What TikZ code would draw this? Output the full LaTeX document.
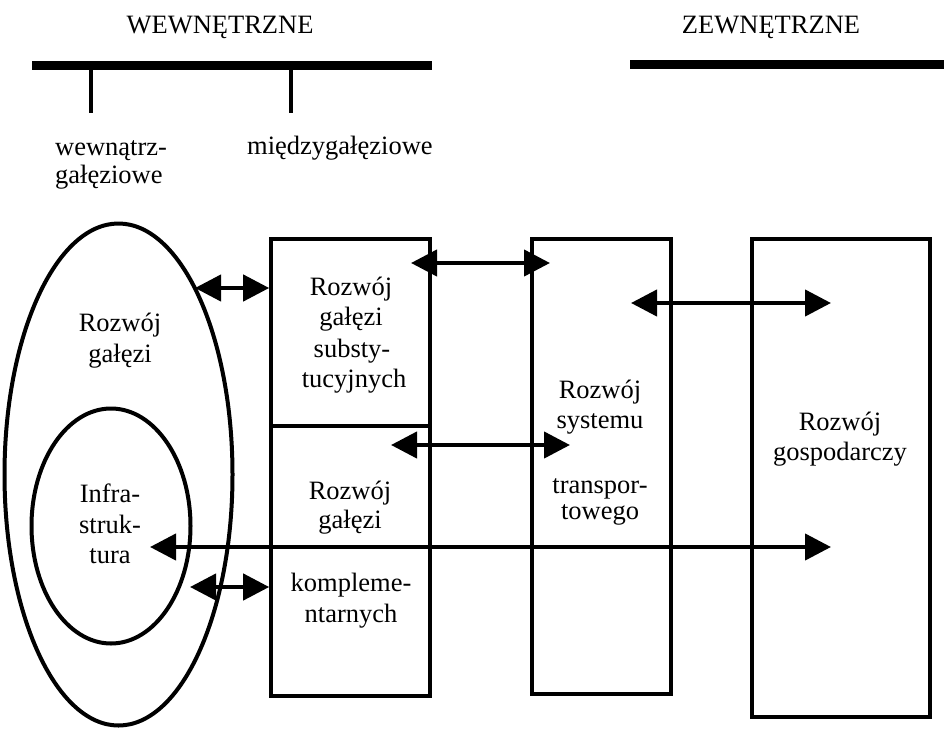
\documentclass[tikz,border=0pt]{standalone}
\usepackage{fontspec}
\setmainfont{Liberation Serif}
\usetikzlibrary{arrows.meta,shapes.geometric}
\begin{document}
\begin{tikzpicture}[x=1pt,y=-1pt,
  txt/.style={inner sep=0pt, anchor=base, font=\fontsize{26.5}{31}\selectfont},
  txtl/.style={txt, anchor=base west},
  panel/.style={draw, line width=3.6pt, rectangle, inner sep=0pt},
  oval/.style={draw, line width=4pt, ellipse, inner sep=0pt},
  bar/.style={line width=9pt},
  tick/.style={line width=3.5pt},
  link/.style={line width=4.3pt,
    {Triangle[length=26pt,width=26pt]}-{Triangle[length=26pt,width=26pt]}},
]
\useasboundingbox (0,0) rectangle (944,728);

% headings and the two group bars
\node[txt] (inner) at (220,33) {WEWNĘTRZNE};
\node[txt] (outer) at (771,33) {ZEWNĘTRZNE};
\coordinate (ib0) at (32,65);  \coordinate (ib1) at (432,65);
\coordinate (eb0) at (630,64); \coordinate (eb1) at (944,64);
\draw[bar] (ib0) -- (ib1);
\draw[bar] (eb0) -- (eb1);
\coordinate (tk1a) at (91,65);  \coordinate (tk1b) at (91,113);
\coordinate (tk2a) at (291,65); \coordinate (tk2b) at (291,113);
\draw[tick] (tk1a) -- (tk1b);
\draw[tick] (tk2a) -- (tk2b);
\node[txtl] (wew1) at (55,155) {wewnątrz-};
\node[txtl] (wew2) at (55,183) {gałęziowe};
\node[txtl] (mie)  at (247,154) {międzygałęziowe};

% ovals: branch and its infrastructure
\node[oval, minimum width=228pt, minimum height=502pt] (branch) at (118.5,474.5) {};
\node[oval, minimum width=159pt, minimum height=235pt] (infra) at (111,526) {};
\node[txt] (br1) at (120,331) {Rozwój};
\node[txt] (br2) at (120,362) {gałęzi};
\node[txt] (in1) at (110,502) {Infra-};
\node[txt] (in2) at (110,533) {struk-};
\node[txt] (in3) at (110,563) {tura};

% panels
\node[panel, minimum width=159pt, minimum height=457pt] (sub) at (350.5,467.5) {};
\coordinate (div) at (350,426);
\draw[line width=3.6pt] (sub.west |- div) -- (sub.east |- div);
\node[panel, minimum width=139pt, minimum height=455pt] (trans) at (601.5,466.5) {};
\node[panel, minimum width=178pt, minimum height=478pt] (econ) at (841,478) {};

\node[txt] (s1) at (351,295) {Rozwój};
\node[txt] (s2) at (351,325) {gałęzi};
\node[txt] (s3) at (352,357) {substy-};
\node[txt] (s4) at (354,387) {tucyjnych};
\node[txt] (k1) at (350,499) {Rozwój};
\node[txt] (k2) at (350,528) {gałęzi};
\node[txt] (k3) at (351,591) {kompleme-};
\node[txt] (k4) at (351,622) {ntarnych};
\node[txt] (t1) at (600,398) {Rozwój};
\node[txt] (t2) at (600,428) {systemu};
\node[txt] (t3) at (600,493) {transpor-};
\node[txt] (t4) at (600,519) {towego};
\node[txt] (g1) at (840,430) {Rozwój};
\node[txt] (g2) at (840,460) {gospodarczy};

% two-way links
\coordinate (a1) at (195,288);
\coordinate (a2l) at (411,263); \coordinate (a2r) at (550,263);
\coordinate (a3l) at (391,445); \coordinate (a3r) at (570,445);
\coordinate (a4l) at (631,303); \coordinate (a4r) at (831,303);
\coordinate (a5l) at (150,547); \coordinate (a5r) at (831,547);
\coordinate (a6) at (190,587);
\draw[link] (a1) -- (sub.west |- a1);
\draw[link] (a2l) -- (a2r);
\draw[link] (a3l) -- (a3r);
\draw[link] (a4l) -- (a4r);
\draw[link] (a5l) -- (a5r);
\draw[link] (a6) -- (sub.west |- a6);
\end{tikzpicture}
\end{document}
